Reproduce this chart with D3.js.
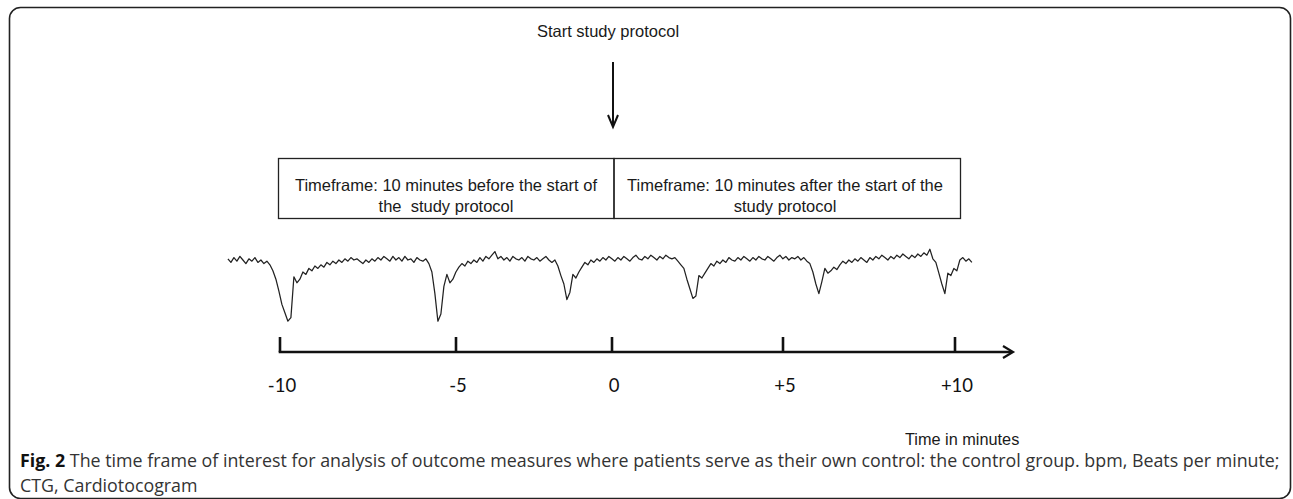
<!DOCTYPE html>
<html>
<head>
<meta charset="utf-8">
<script src="https://cdn.jsdelivr.net/npm/d3@7"></script>
<style>
  body { margin: 0; background: #fff; }
  svg { display: block; }
</style>
</head>
<body>
<svg id="chart"></svg>
<script>
// axis ticks (minutes)
const tickValues = [-10, -5, 0, 5, 10];
const tickLabels = ["-10", "-5", "0", "+5", "+10"];
const tickPixels = [280, 456, 612, 783, 955]; // measured tick spacing of the original drawing

// the two timeframes (minutes) and their labels
const timeframes = [[-10, 0], [0, 10]];
const timeframeLabels = [
  ["Timeframe: 10 minutes before the start of", "the  study protocol"],
  ["Timeframe: 10 minutes after the start of the", "study protocol"]
];

const ctgBpm = [
  141,138,142,139,143,140,137,141,139,142,
  138,140,137,139,136,131,124,114,103,96,
  89,92,126,121,124,130,128,133,131,135,
  133,136,134,138,136,139,137,140,138,141,
  139,142,140,141,139,137,140,138,141,139,
  142,140,143,141,139,143,140,142,139,143,
  140,141,138,142,140,139,141,137,130,112,
  89,95,118,128,121,124,130,134,137,135,
  139,137,140,138,142,139,143,141,144,147,
  141,143,140,142,139,143,141,140,142,139,
  143,141,140,142,139,141,143,140,138,140,
  135,127,120,107,113,128,125,130,134,138,
  136,140,138,141,139,142,140,143,141,139,
  142,140,143,141,139,142,144,141,140,143,
  141,144,142,140,143,141,144,142,141,142,
  139,136,133,124,116,108,110,127,125,129,
  133,137,135,139,137,140,138,142,140,139,
  142,140,143,141,139,142,140,143,141,140,
  143,141,139,142,144,141,143,140,142,141,
  143,140,142,139,137,130,120,112,122,133,
  129,131,134,132,136,139,137,140,138,141,
  139,142,140,138,142,140,143,141,144,142,
  140,143,141,144,142,145,143,141,144,142,
  145,143,146,144,149,141,138,129,120,112,
  129,127,133,131,140,142,139,141,138
];
const traceMinutes = [-11.48, 10.49];

const captionBold = "Fig. 2";
const captionLines = [
  " The time frame of interest for analysis of outcome measures where patients serve as their own control: the control group. bpm, Beats per minute;",
  "CTG, Cardiotocogram"
];
const startLabel = "Start study protocol";
const axisTitle = "Time in minutes";

const width = 1293;
const height = 499;

const svg = d3.select("#chart")
    .attr("width", width)
    .attr("height", height)
    .attr("viewBox", [0, 0, width, height]);

const x = d3.scaleLinear().domain(tickValues).range(tickPixels);
const y = d3.scaleLinear().domain([85, 150]).range([326, 248]);
const traceX = d3.scaleLinear()
    .domain([0, ctgBpm.length - 1])
    .range(traceMinutes.map(x));

// outer frame
svg.append("rect")
    .attr("x", 9.5).attr("y", 7.5)
    .attr("width", 1281).attr("height", 491)
    .attr("rx", 11).attr("ry", 11)
    .attr("fill", "none")
    .attr("stroke", "#222")
    .attr("stroke-width", 1.6);

const diagramFont = "'Liberation Sans', Arial, sans-serif";

// start label + arrow
svg.append("text")
    .attr("x", x(0) - 4).attr("y", 37)
    .attr("text-anchor", "middle")
    .attr("font-family", diagramFont)
    .attr("font-size", "16.5px")
    .attr("fill", "#1a1a1a")
    .text(startLabel);

const arrow = svg.append("g")
    .attr("stroke", "#111")
    .attr("fill", "none")
    .attr("stroke-width", 2);
arrow.append("line")
    .attr("x1", x(0) + 1).attr("x2", x(0) + 1)
    .attr("y1", 62).attr("y2", 127);
arrow.append("path")
    .attr("d", `M${x(0) - 4},${115}L${x(0) + 1},${127}L${x(0) + 6},${115}`);

// timeframe boxes
const boxTop = 158, boxBottom = 218;
const boxLeft = d => d[0] === -10 ? x(d[0]) - 2 : x(d[0]) + 1.5;
const boxRight = d => d[1] === 10 ? x(d[1]) + 5 : x(d[1]) + 1.5;

const box = svg.append("g")
  .selectAll("g")
  .data(timeframes)
  .join("g");

box.append("rect")
    .attr("x", d => boxLeft(d) + 0.5)
    .attr("y", boxTop + 0.5)
    .attr("width", d => boxRight(d) - boxLeft(d))
    .attr("height", boxBottom - boxTop)
    .attr("fill", "none")
    .attr("stroke", "#222")
    .attr("stroke-width", 1.3);

box.each(function(d, i) {
  const cx = i === 0 ? 446 : 785;
  const t = d3.select(this).append("text")
      .attr("text-anchor", "middle")
      .attr("font-family", diagramFont)
      .attr("font-size", "16.5px")
      .attr("fill", "#1a1a1a")
      .style("white-space", "pre");
  timeframeLabels[i].forEach((line, k) => {
    t.append("tspan")
        .attr("x", cx)
        .attr("y", 191 + k * 21)
        .text(line);
  });
});

// CTG trace
const line = d3.line()
    .x((d, i) => traceX(i))
    .y(d => y(d));

svg.append("path")
    .datum(ctgBpm)
    .attr("d", line)
    .attr("fill", "none")
    .attr("stroke", "#222")
    .attr("stroke-width", 1.25)
    .attr("stroke-linejoin", "round");

// time axis
const axisY = 352;
const axisG = svg.append("g")
    .attr("stroke", "#111")
    .attr("stroke-width", 2.6)
    .attr("fill", "none");

axisG.append("line")
    .attr("x1", x(-10) - 1.3).attr("x2", 1012)
    .attr("y1", axisY).attr("y2", axisY);
axisG.append("path")
    .attr("stroke-width", 2.2)
    .attr("d", `M1003,${axisY - 6}L1013,${axisY}L1003,${axisY + 6}`);
axisG.selectAll(".tick")
  .data(tickValues)
  .join("line")
    .attr("class", "tick")
    .attr("x1", d => x(d)).attr("x2", d => x(d))
    .attr("y1", axisY - 15).attr("y2", axisY);

svg.append("g")
  .selectAll("text")
  .data(tickValues)
  .join("text")
    .attr("x", d => x(d) + 2)
    .attr("y", 392)
    .attr("text-anchor", "middle")
    .attr("font-family", "Lato, 'Open Sans', sans-serif")
    .attr("font-size", "18.5px")
    .attr("fill", "#111")
    .text((d, i) => tickLabels[i]);

svg.append("text")
    .attr("x", 905).attr("y", 445)
    .attr("font-family", diagramFont)
    .attr("font-size", "16.3px")
    .attr("fill", "#1a1a1a")
    .text(axisTitle);

// caption, squeezed to the condensed width of the original
const capFont = "'Open Sans', sans-serif";
const capLeft = 20, capRight = 1281;
const cap1 = svg.append("text")
    .attr("font-family", capFont)
    .attr("font-size", "18.5px")
    .attr("fill", "#333");
cap1.append("tspan")
    .attr("font-weight", "bold")
    .attr("fill", "#111")
    .text(captionBold);
cap1.append("tspan")
    .style("white-space", "pre")
    .text(captionLines[0]);

const natural = cap1.node().getComputedTextLength();
const sx = (capRight - capLeft) / natural;
cap1.attr("transform", `translate(${capLeft},467) scale(${sx},1)`);

svg.append("text")
    .attr("font-family", capFont)
    .attr("font-size", "18.5px")
    .attr("fill", "#333")
    .attr("transform", `translate(${capLeft},492) scale(${sx},1)`)
    .text(captionLines[1]);
</script>
</body>
</html>
